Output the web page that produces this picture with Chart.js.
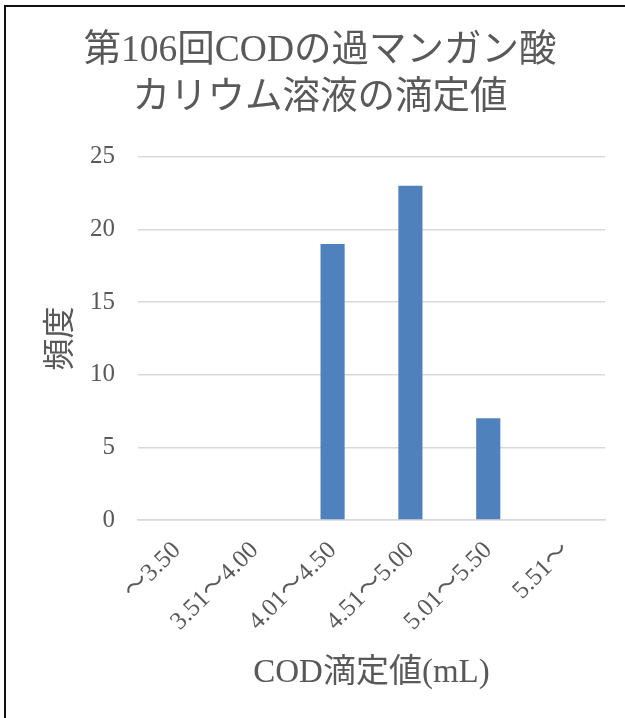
<!DOCTYPE html>
<html>
<head>
<meta charset="utf-8">
<script src="https://cdn.jsdelivr.net/npm/chart.js@4/dist/chart.umd.min.js"></script>
<style>
  html, body { margin: 0; padding: 0; background: #fff; overflow: hidden; }
  #wrap { position: relative; width: 625px; height: 718px; }
  #frame { position: absolute; left: 4px; top: 5px; width: 700px; height: 800px;
           border-left: 2px solid #111; border-top: 2px solid #111; box-sizing: border-box; pointer-events: none; }
  canvas { position: absolute; left: 0; top: 0; }
</style>
</head>
<body>
<div id="wrap">
  <canvas id="c" width="625" height="718"></canvas>
  <div id="frame"></div>
</div>
<script>
const titleLines = ["第106回CODの過マンガン酸", "カリウム溶液の滴定値"];
const xAxisTitle = "COD滴定値(mL)";
const yAxisTitle = "頻度";
const categories = ["～3.50", "3.51～4.00", "4.01～4.50", "4.51～5.00", "5.01～5.50", "5.51～"];
const frequency = [0, 0, 19, 23, 7, 0];
const yTicks = [0, 5, 10, 15, 20, 25];

const FAMILY = "'Liberation Serif', 'Noto Sans CJK JP', serif";
const TEXT = '#595959';
Chart.defaults.font.family = FAMILY;
Chart.defaults.color = TEXT;

new Chart(document.getElementById('c'), {
  type: 'bar',
  data: {
    labels: categories,
    datasets: [{
      label: yAxisTitle,
      data: frequency,
      backgroundColor: '#4f81bd',
      borderWidth: 0,
      categoryPercentage: 1,
      barPercentage: 0.31
    }]
  },
  options: {
    responsive: false,
    animation: false,
    devicePixelRatio: 1,
    layout: { padding: { left: 35, right: 20, top: 0, bottom: 0 } },
    plugins: {
      legend: { display: false },
      tooltip: { enabled: false },
      title: {
        display: true,
        text: titleLines,
        color: TEXT,
        font: { family: FAMILY, size: 37.5, weight: 'normal', lineHeight: 1.25 },
        padding: { top: 28, bottom: 35 }
      }
    },
    scales: {
      x: {
        grid: { display: false, drawTicks: false },
        border: { display: true, color: '#d9d9d9', width: 1.5 },
        ticks: { font: { size: 25 }, color: TEXT, maxRotation: 45, minRotation: 45, padding: 16, autoSkip: false },
        title: { display: true, text: xAxisTitle, color: TEXT, font: { size: 33 }, padding: { top: 0, bottom: 25 } },
        afterFit: (s) => { s.height = 198; }
      },
      y: {
        min: 0, max: 25,
        afterBuildTicks: (s) => { s.ticks = yTicks.map(v => ({ value: v })); },
        grid: { color: '#d9d9d9', lineWidth: 1.5, drawTicks: false },
        border: { display: false },
        ticks: { font: { size: 25 }, color: TEXT, padding: 23 },
        title: { display: true, text: yAxisTitle, color: TEXT, font: { size: 32 }, padding: { top: 7, bottom: 0 } },
        afterFit: (s) => { s.width = 103; }
      }
    }
  }
});
</script>
</body>
</html>
